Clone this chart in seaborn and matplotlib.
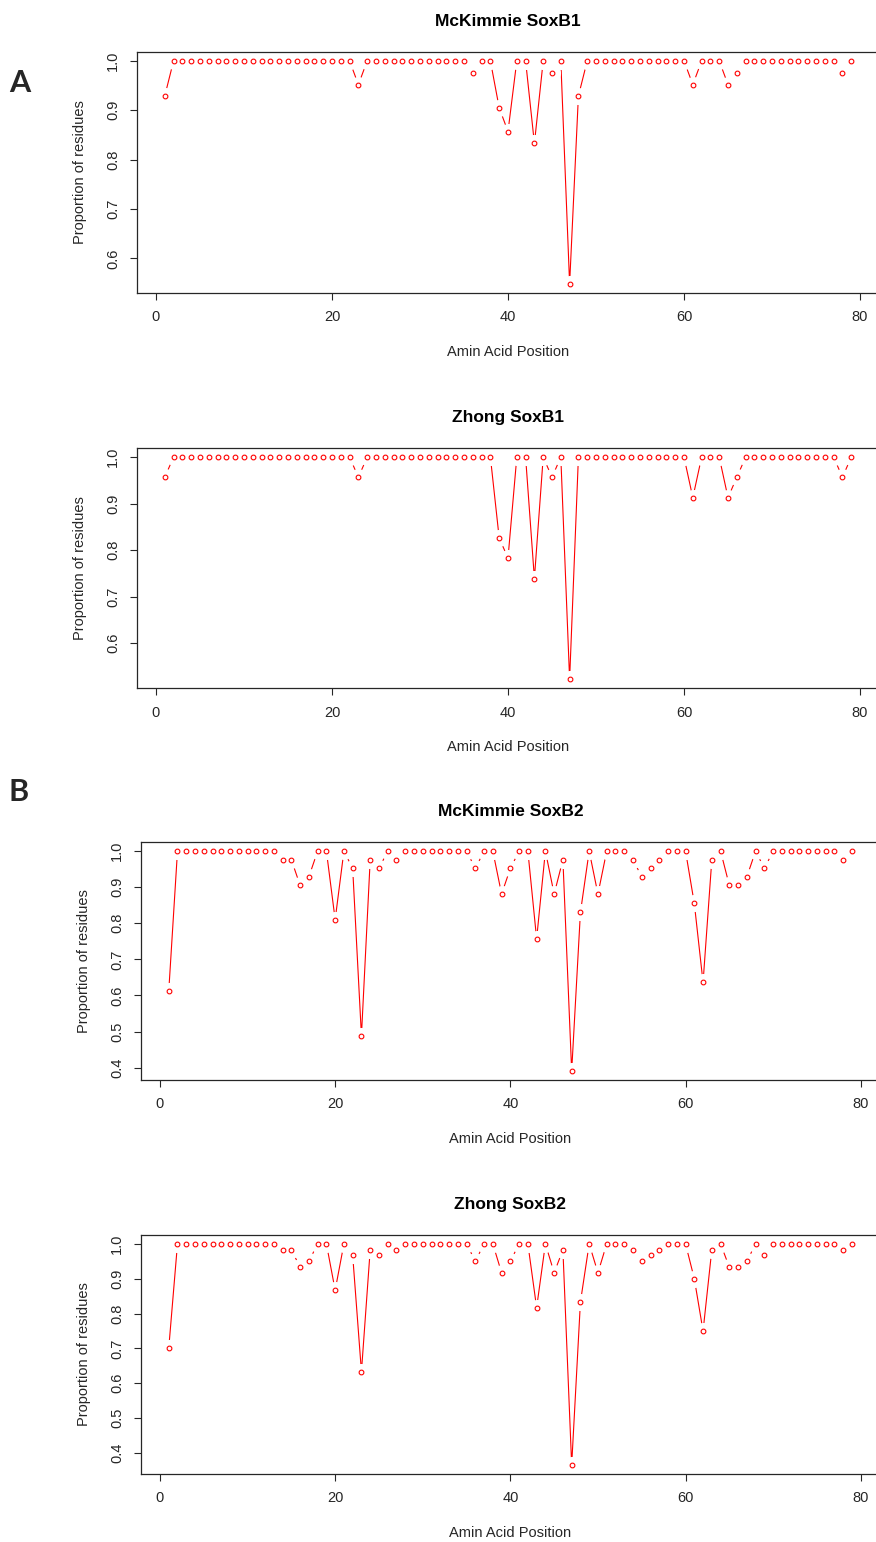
import matplotlib
matplotlib.use("Agg")
import matplotlib.pyplot as plt
import seaborn as sns
import pandas as pd

# Amino-acid positions along the HMG box
positions = list(range(1, 80))

# Proportion of conserved residues at each position
mckimmie_soxb1 = [
    0.929, 1.0, 1.0, 1.0, 1.0, 1.0, 1.0, 1.0, 1.0, 1.0,
    1.0, 1.0, 1.0, 1.0, 1.0, 1.0, 1.0, 1.0, 1.0, 1.0,
    1.0, 1.0, 0.952, 1.0, 1.0, 1.0, 1.0, 1.0, 1.0, 1.0,
    1.0, 1.0, 1.0, 1.0, 1.0, 0.976, 1.0, 1.0, 0.905, 0.857,
    1.0, 1.0, 0.833, 1.0, 0.976, 1.0, 0.548, 0.929, 1.0, 1.0,
    1.0, 1.0, 1.0, 1.0, 1.0, 1.0, 1.0, 1.0, 1.0, 1.0,
    0.952, 1.0, 1.0, 1.0, 0.952, 0.976, 1.0, 1.0, 1.0, 1.0,
    1.0, 1.0, 1.0, 1.0, 1.0, 1.0, 1.0, 0.976, 1.0,
]

zhong_soxb1 = [
    0.957, 1.0, 1.0, 1.0, 1.0, 1.0, 1.0, 1.0, 1.0, 1.0,
    1.0, 1.0, 1.0, 1.0, 1.0, 1.0, 1.0, 1.0, 1.0, 1.0,
    1.0, 1.0, 0.957, 1.0, 1.0, 1.0, 1.0, 1.0, 1.0, 1.0,
    1.0, 1.0, 1.0, 1.0, 1.0, 1.0, 1.0, 1.0, 0.826, 0.783,
    1.0, 1.0, 0.739, 1.0, 0.957, 1.0, 0.522, 1.0, 1.0, 1.0,
    1.0, 1.0, 1.0, 1.0, 1.0, 1.0, 1.0, 1.0, 1.0, 1.0,
    0.913, 1.0, 1.0, 1.0, 0.913, 0.957, 1.0, 1.0, 1.0, 1.0,
    1.0, 1.0, 1.0, 1.0, 1.0, 1.0, 1.0, 0.957, 1.0,
]

mckimmie_soxb2 = [
    0.611, 1.0, 1.0, 1.0, 1.0, 1.0, 1.0, 1.0, 1.0, 1.0,
    1.0, 1.0, 1.0, 0.976, 0.976, 0.905, 0.929, 1.0, 1.0, 0.810,
    1.0, 0.952, 0.488, 0.976, 0.952, 1.0, 0.976, 1.0, 1.0, 1.0,
    1.0, 1.0, 1.0, 1.0, 1.0, 0.952, 1.0, 1.0, 0.881, 0.952,
    1.0, 1.0, 0.757, 1.0, 0.881, 0.976, 0.390, 0.830, 1.0, 0.881,
    1.0, 1.0, 1.0, 0.976, 0.929, 0.952, 0.976, 1.0, 1.0, 1.0,
    0.855, 0.636, 0.976, 1.0, 0.905, 0.905, 0.929, 1.0, 0.952, 1.0,
    1.0, 1.0, 1.0, 1.0, 1.0, 1.0, 1.0, 0.976, 1.0,
]

zhong_soxb2 = [
    0.700, 1.0, 1.0, 1.0, 1.0, 1.0, 1.0, 1.0, 1.0, 1.0,
    1.0, 1.0, 1.0, 0.983, 0.983, 0.933, 0.950, 1.0, 1.0, 0.867,
    1.0, 0.967, 0.633, 0.983, 0.967, 1.0, 0.983, 1.0, 1.0, 1.0,
    1.0, 1.0, 1.0, 1.0, 1.0, 0.950, 1.0, 1.0, 0.917, 0.950,
    1.0, 1.0, 0.817, 1.0, 0.917, 0.983, 0.365, 0.833, 1.0, 0.917,
    1.0, 1.0, 1.0, 0.983, 0.950, 0.967, 0.983, 1.0, 1.0, 1.0,
    0.900, 0.750, 0.983, 1.0, 0.933, 0.933, 0.950, 1.0, 0.967, 1.0,
    1.0, 1.0, 1.0, 1.0, 1.0, 1.0, 1.0, 0.983, 1.0,
]

panel_titles = ["McKimmie SoxB1", "Zhong SoxB1", "McKimmie SoxB2", "Zhong SoxB2"]
panel_series = [mckimmie_soxb1, zhong_soxb1, mckimmie_soxb2, zhong_soxb2]
x_ticks = [0, 20, 40, 60, 80]
y_ticks_b1 = [0.6, 0.7, 0.8, 0.9, 1.0]
y_ticks_b2 = [0.4, 0.5, 0.6, 0.7, 0.8, 0.9, 1.0]
panel_yticks = [y_ticks_b1, y_ticks_b1, y_ticks_b2, y_ticks_b2]
x_label = "Amin Acid Position"
y_label = "Proportion of residues"
group_letters = ["A", "B"]

sns.set_style("white")
plt.rcParams["font.family"] = ["Liberation Sans", "DejaVu Sans"]

W, H = 876, 1542
fig = plt.figure(figsize=(W / 100, H / 100), dpi=100)

# axes boxes in pixels: left, right, top, bottom
boxes = [
    (137.3, 878.7, 52.0, 293.0),
    (137.3, 878.7, 448.3, 688.3),
    (141.4, 879.3, 842.3, 1080.0),
    (141.4, 879.3, 1235.0, 1474.0),
]

RED = "#ff0000"
INK = "#262626"

for title, vals, yt, (l, r, t, b) in zip(panel_titles, panel_series, panel_yticks, boxes):
    ax = fig.add_axes([l / W, 1 - b / H, (r - l) / W, (b - t) / H])
    df = pd.DataFrame({"pos": positions, "prop": vals})

    # connecting line, then white halos to open gaps round each point, then open circles
    sns.lineplot(data=df, x="pos", y="prop", ax=ax, color=RED, lw=0.8,
                 estimator=None, sort=False, zorder=1)
    sns.lineplot(data=df, x="pos", y="prop", ax=ax, ls="", marker="o", ms=12.3,
                 mfc="white", mec="white", mew=0, estimator=None, sort=False, zorder=1.5)
    sns.lineplot(data=df, x="pos", y="prop", ax=ax, ls="", marker="o", ms=3.4,
                 mfc="none", mec=RED, mew=0.8, estimator=None, sort=False, zorder=3)

    x0, x1 = min(positions), max(positions)
    dx = 0.04 * (x1 - x0)
    y0, y1 = min(vals), max(vals)
    dy = 0.04 * (y1 - y0)
    ax.set_xlim(x0 - dx, x1 + dx)
    ax.set_ylim(y0 - dy, y1 + dy)

    ax.set_xticks(x_ticks)
    ax.set_yticks(yt)
    ax.set_xticklabels([str(v) for v in x_ticks])
    ax.set_yticklabels([f"{v:.1f}" for v in yt])
    ax.tick_params(axis="both", direction="out", length=5, width=0.8, color=INK,
                   labelsize=10.5, labelcolor=INK, pad=7.5)
    ax.tick_params(axis="both", bottom=True, left=True)
    for lab in ax.get_yticklabels():
        lab.set_rotation(90)
        lab.set_va("center")
        lab.set_ha("right")

    for sp in ax.spines.values():
        sp.set_color(INK)
        sp.set_linewidth(0.9)

    ax.set_title(title, fontsize=12.5, fontweight="bold", color="black", pad=19)
    ax.set_xlabel(x_label, fontsize=10.5, color=INK)
    ax.set_ylabel(y_label, fontsize=10.5, color=INK)
    ax.xaxis.set_label_coords(0.5, -52 / (b - t))
    ax.yaxis.set_label_coords(-50 / (r - l), 0.5)

fig.text(20 / W, 1 - 82.5 / H, group_letters[0], fontsize=22, fontweight="bold",
         family=["Lato", "DejaVu Sans"], ha="center", va="center")
fig.text(18.3 / W, 1 - 792 / H, group_letters[1], fontsize=22, fontweight="bold",
         family=["Lato", "DejaVu Sans"], ha="center", va="center")

fig.savefig("out.png", dpi=100, facecolor="white")
